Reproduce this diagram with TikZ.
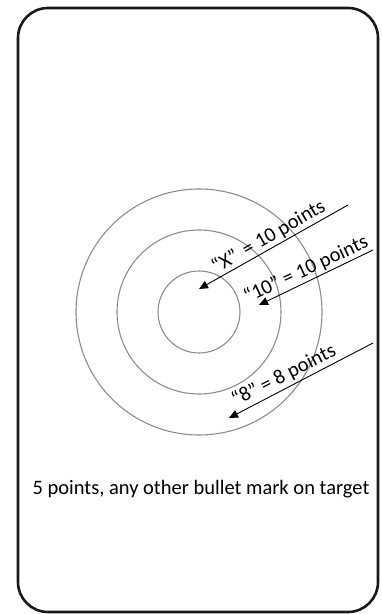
\documentclass[tikz,border=0pt]{standalone}
\usepackage{fontspec}
\setmainfont{Carlito}
\usetikzlibrary{arrows.meta}
\begin{document}
\begin{tikzpicture}[x=1pt,y=1pt,
  ring/.style={draw=black!45,line width=1.1pt},
  pointer/.style={draw=black,line width=0.9pt,-{Triangle[length=9pt,width=8pt]}},
  lbl/.style={font=\fontsize{20.5}{23}\selectfont,inner sep=0pt}]
\useasboundingbox (0,0) rectangle (381,614);
\draw[line width=2.6pt,rounded corners=30pt,draw=black!90] (18,2) rectangle (378,606);
\coordinate (c) at (199,302);
\draw[ring] (c) circle (41);
\draw[ring] (c) circle (82);
\draw[ring] (c) circle (123);
\coordinate (s1) at (348,409);
\coordinate (t1) at (199,325);
\coordinate (s2) at (373,364);
\coordinate (t2) at (259,309);
\coordinate (s3) at (373,271);
\coordinate (t3) at (229,196);
\draw[pointer] (s1) -- (t1);
\draw[pointer] (s2) -- (t2);
\draw[pointer] (s3) -- (t3);
\node[lbl,rotate=30,anchor=base] (l1) at (271.5,372) {“X”\hspace{3pt} = 10 points};
\node[lbl,rotate=25,anchor=base] (l2) at (308.5,339) {“10” = 10 points};
\node[lbl,rotate=27,anchor=base] (l3) at (286.5,233) {“8” = 8 points};
\node[lbl] (note) at (201,125) {5 points, any other bullet mark on target};
\end{tikzpicture}
\end{document}
